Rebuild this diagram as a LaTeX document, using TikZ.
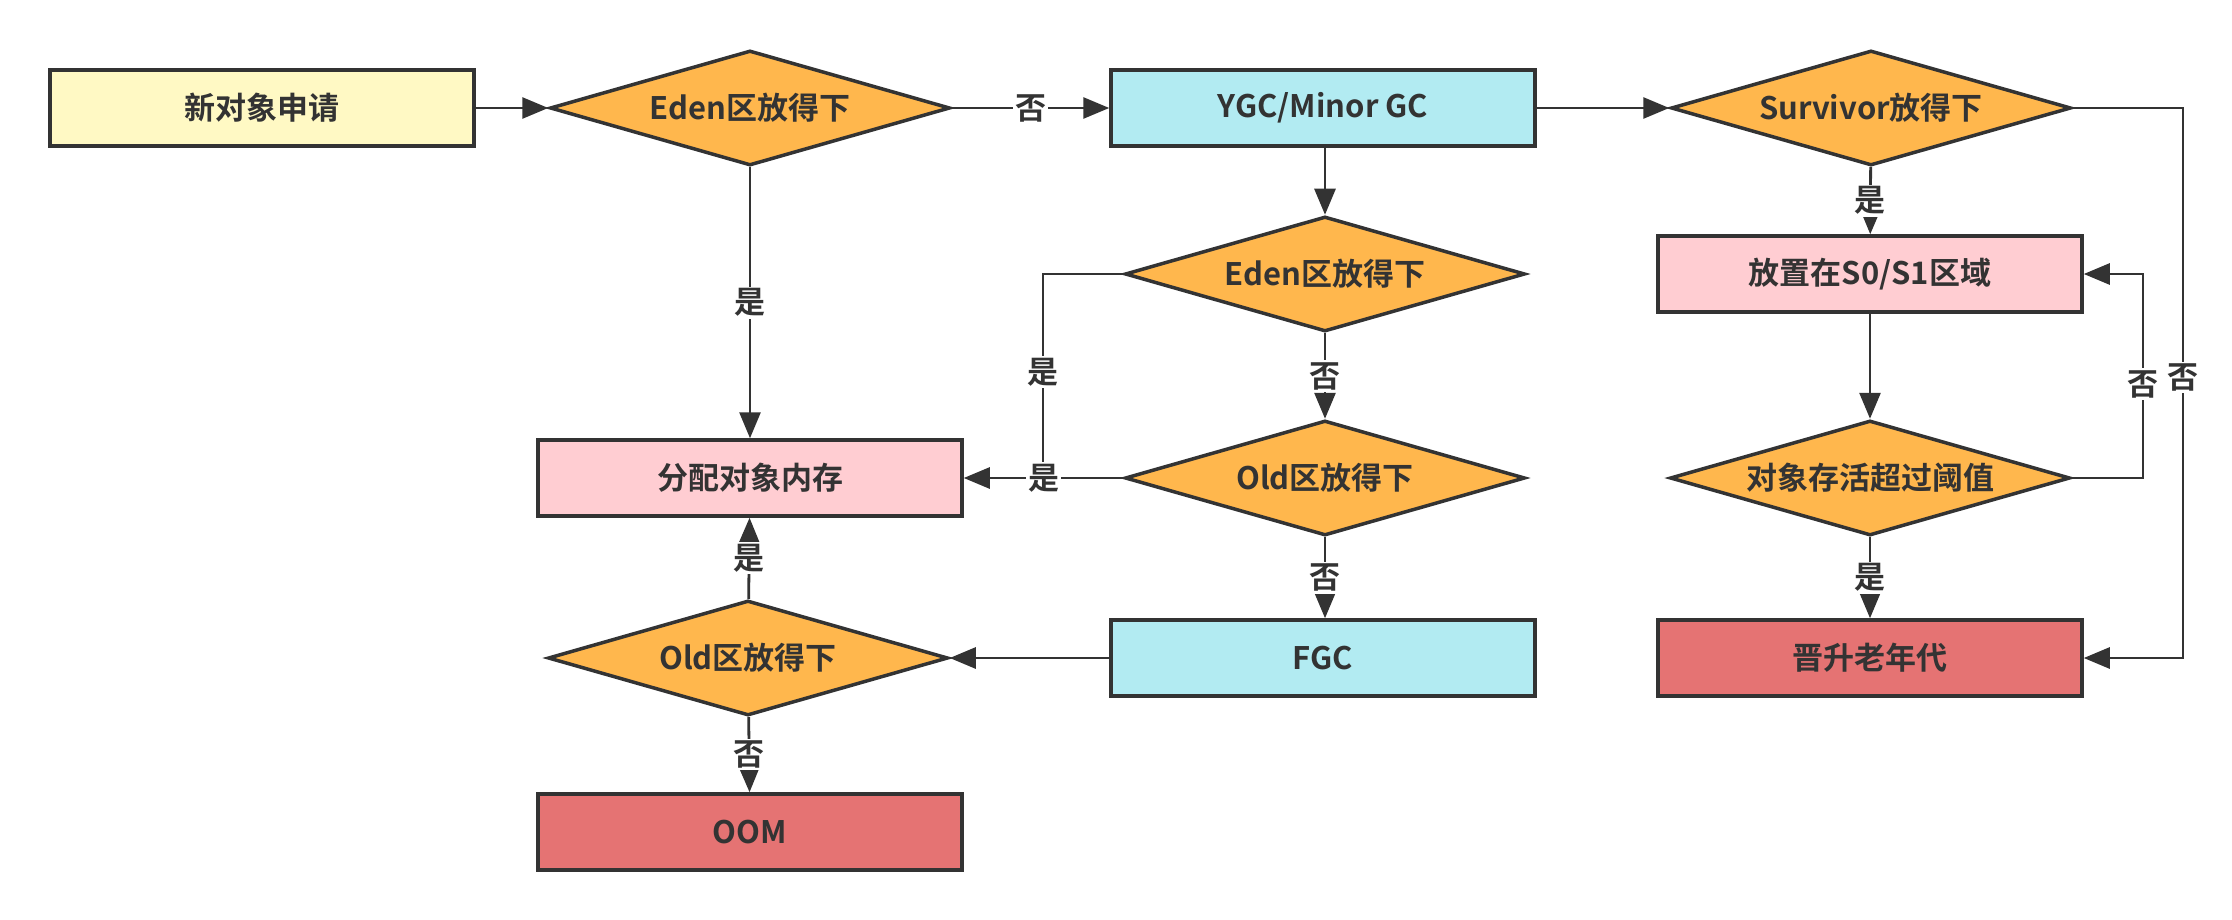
\documentclass[tikz,border=0pt]{standalone}
\usepackage{fontspec}
\setmainfont{Noto Sans CJK SC}[BoldFont={* Bold}]
\usetikzlibrary{shapes.geometric,arrows.meta}
\definecolor{ln}{HTML}{333333}
\definecolor{yel}{HTML}{FFF9C4}
\definecolor{orng}{HTML}{FFB74D}
\definecolor{blu}{HTML}{B2EBF2}
\definecolor{pnk}{HTML}{FFCDD2}
\definecolor{rd}{HTML}{E57373}
\newcommand{\fnt}{\fontsize{31pt}{37pt}\selectfont\bfseries}
\tikzset{
  box/.style={rectangle, draw=ln, line width=3.5pt, minimum width=424pt, minimum height=76pt, inner sep=0pt, font=\fnt, text=ln},
  dec/.style={diamond, draw=ln, line width=3.5pt, fill=orng, minimum width=400pt, minimum height=115pt, aspect=3.44, inner sep=0pt, font=\fnt, text=ln},
  conn/.style={draw=ln, line width=2.8pt, -{Triangle[length=26pt,width=21pt]}},
  plain/.style={draw=ln, line width=2.8pt},
  lbl/.style={fill=white, inner sep=2pt, font=\fnt, text=ln},
}
\begin{document}
\begin{tikzpicture}[x=1pt,y=-1pt]
\fill[white] (0,0) rectangle (2232,920);
\useasboundingbox (0,0) rectangle (2232,920);
% nodes
\node[box, fill=yel] (req) at (262,108) {新对象申请};
\node[dec] (eden1) at (750,108) {Eden区放得下};
\node[box, fill=blu] (ygc) at (1323,108) {YGC/Minor GC};
\node[dec] (surv) at (1871,108) {Survivor放得下};
\node[box, fill=pnk] (s01) at (1870,274) {放置在S0/S1区域};
\node[dec] (eden2) at (1325,274) {Eden区放得下};
\node[box, fill=pnk] (alloc) at (750,478) {分配对象内存};
\node[dec] (old1) at (1325,478) {Old区放得下};
\node[dec] (thr) at (1870,478) {对象存活超过阈值};
\node[box, fill=blu] (fgc) at (1323,658) {FGC};
\node[box, fill=rd] (promo) at (1870,658) {晋升老年代};
\node[dec] (old2) at (748,658) {Old区放得下};
\node[box, fill=rd] (oom) at (750,832) {OOM};
% elbow coordinates
\coordinate (j1) at (1043,274);
\coordinate (j2) at (1043,478);
\coordinate (r1) at (2183,108);
\coordinate (r2) at (2183,658);
\coordinate (t1) at (2143,478);
\coordinate (t2) at (2143,274);
% connectors
\draw[conn] (req) -- (eden1);
\draw[conn] (eden1) -- node[lbl]{否} (ygc);
\draw[conn] (eden1) -- node[lbl]{是} (alloc);
\draw[conn] (ygc) -- (surv);
\draw[conn] (eden2.north |- ygc.south) -- (eden2.north);
\draw[plain] (eden2.west) -- (j1) -- node[lbl, pos=0.48]{是} (j2);
\draw[conn] (old1.west) -- node[lbl]{是} (alloc.east);
\draw[conn] (eden2) -- node[lbl]{否} (old1);
\draw[conn] (old1.south) -- node[lbl]{否} (old1.south |- fgc.north);
\draw[conn] (fgc) -- (old2);
\draw[conn] (old2) -- node[lbl]{是} (alloc);
\draw[conn] (old2) -- node[lbl]{否} (oom);
\draw[conn] (surv) -- node[lbl]{是} (s01);
\draw[conn, line join=miter] (surv.east) -- (r1) -- node[lbl, pos=0.49]{否} (r2) -- (promo.east);
\draw[conn] (s01) -- (thr);
\draw[conn, line join=miter] (thr.east) -- (t1) -- node[lbl, pos=0.46]{否} (t2) -- (s01.east);
\draw[conn] (thr) -- node[lbl]{是} (promo);
\end{tikzpicture}
\end{document}
